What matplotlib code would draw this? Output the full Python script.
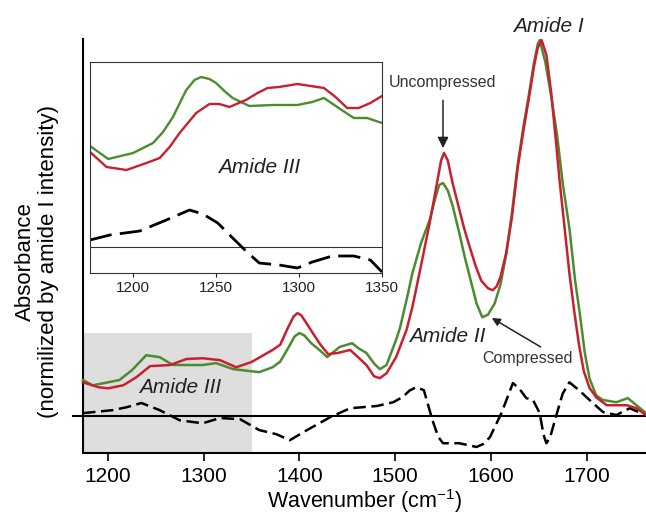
import matplotlib
matplotlib.use("Agg")
import matplotlib.pyplot as plt
from matplotlib.patches import Rectangle

plt.rcParams["font.family"] = ["Liberation Sans", "DejaVu Sans"]
plt.rcParams["mathtext.fontset"] = "custom"
plt.rcParams["mathtext.rm"] = "Liberation Sans"
plt.rcParams["mathtext.it"] = "Liberation Sans:italic"
plt.rcParams["lines.scale_dashes"] = False

RED = "#c8202e"
GREEN = "#4c8c2f"

# main spectrum (absorbance normalised to amide I = 1)
red_wn = [1174, 1190, 1200, 1216, 1230, 1244, 1265, 1282, 1299, 1317, 1334, 1350,
          1372, 1380, 1388, 1394, 1398, 1402, 1408, 1414, 1422, 1430, 1440, 1453,
          1460, 1470, 1478, 1484, 1491, 1501, 1512, 1518, 1527, 1536, 1543, 1548,
          1551, 1555, 1560, 1566, 1572, 1578, 1584, 1590, 1597, 1602, 1606, 1610,
          1616, 1622, 1628, 1634, 1640, 1645, 1649, 1653, 1658, 1663, 1668, 1672,
          1677, 1682, 1687, 1692, 1697, 1703, 1710, 1721, 1742, 1752, 1762]
red_abs = [0.090, 0.077, 0.074, 0.082, 0.104, 0.133, 0.136, 0.152, 0.154, 0.149, 0.130, 0.144,
           0.176, 0.190, 0.235, 0.265, 0.274, 0.268, 0.245, 0.221, 0.190, 0.165, 0.168, 0.176,
           0.160, 0.136, 0.106, 0.101, 0.114, 0.157, 0.230, 0.290, 0.400, 0.513, 0.610, 0.680,
           0.700, 0.680, 0.620, 0.560, 0.500, 0.449, 0.400, 0.360, 0.340, 0.335, 0.345, 0.370,
           0.434, 0.530, 0.660, 0.760, 0.850, 0.930, 0.980, 1.000, 0.960, 0.860, 0.730, 0.620,
           0.500, 0.380, 0.280, 0.190, 0.120, 0.075, 0.050, 0.029, 0.029, 0.021, 0.003]

green_wn = [1174, 1184, 1212, 1225, 1240, 1254, 1268, 1299, 1313, 1331, 1358, 1372,
            1380, 1388, 1395, 1400, 1405, 1412, 1420, 1429, 1442, 1455, 1462, 1470,
            1478, 1484, 1491, 1501, 1505, 1512, 1518, 1527, 1536, 1542, 1546, 1550,
            1555, 1560, 1567, 1573, 1578, 1585, 1591, 1597, 1604, 1610, 1616, 1622,
            1628, 1634, 1640, 1645, 1649, 1651, 1657, 1663, 1669, 1675, 1682, 1688,
            1693, 1698, 1703, 1710, 1717, 1731, 1743, 1752, 1762]
green_abs = [0.096, 0.082, 0.096, 0.122, 0.162, 0.157, 0.136, 0.136, 0.141, 0.125, 0.117, 0.130,
             0.145, 0.180, 0.212, 0.221, 0.215, 0.195, 0.178, 0.157, 0.184, 0.194, 0.180, 0.168,
             0.140, 0.125, 0.136, 0.203, 0.234, 0.310, 0.380, 0.460, 0.521, 0.580, 0.615, 0.620,
             0.600, 0.560, 0.487, 0.420, 0.370, 0.300, 0.263, 0.270, 0.300, 0.350, 0.430, 0.540,
             0.670, 0.770, 0.860, 0.940, 0.990, 1.000, 0.940, 0.850, 0.750, 0.620, 0.500, 0.360,
             0.270, 0.170, 0.100, 0.055, 0.043, 0.037, 0.048, 0.029, 0.008]

diff_wn = [1174, 1205, 1220, 1235, 1254, 1275, 1299, 1317, 1338, 1358, 1376, 1390,
           1408, 1432, 1453, 1481, 1498, 1508, 1515, 1522, 1530, 1539, 1545, 1550,
           1567, 1585, 1592, 1599, 1611, 1623, 1630, 1637, 1644, 1651, 1655, 1658,
           1662, 1669, 1675, 1682, 1692, 1703, 1717, 1731, 1745, 1762]
diff_abs = [0.008, 0.016, 0.024, 0.035, 0.016, -0.011, -0.019, -0.005, -0.008, -0.037, -0.048, -0.064,
            -0.037, -0.003, 0.021, 0.027, 0.037, 0.051, 0.068, 0.077, 0.069, -0.011, -0.055, -0.072,
            -0.072, -0.082, -0.074, -0.056, 0.008, 0.088, 0.072, 0.048, 0.043, 0.008, -0.050, -0.072,
            -0.055, 0.008, 0.060, 0.090, 0.069, 0.043, 0.011, 0.003, 0.021, 0.003]

# inset (amide III region, magnified)
in_red_wn = [1174, 1184, 1196, 1208, 1216, 1222, 1228, 1238, 1246, 1252, 1258, 1268,
             1275, 1281, 1288, 1299, 1307, 1315, 1322, 1329, 1336, 1343, 1350]
in_red = [0.95, 0.80, 0.77, 0.84, 0.89, 1.00, 1.14, 1.34, 1.43, 1.43, 1.40, 1.47,
          1.54, 1.59, 1.60, 1.63, 1.61, 1.59, 1.50, 1.39, 1.39, 1.44, 1.51]
in_green_wn = [1174, 1185, 1200, 1212, 1218, 1224, 1232, 1237, 1241, 1246, 1250, 1255,
               1260, 1270, 1284, 1299, 1308, 1315, 1323, 1333, 1341, 1350]
in_green = [1.01, 0.88, 0.94, 1.04, 1.15, 1.30, 1.57, 1.67, 1.70, 1.68, 1.64, 1.56,
            1.49, 1.41, 1.42, 1.42, 1.45, 1.49, 1.40, 1.29, 1.29, 1.24]
in_diff_wn = [1174, 1186, 1204, 1220, 1234, 1242, 1251, 1260, 1268, 1276, 1288, 1299,
              1308, 1320, 1333, 1343, 1350]
in_diff = [0.07, 0.12, 0.16, 0.27, 0.37, 0.33, 0.24, 0.09, -0.04, -0.16, -0.18, -0.21,
           -0.15, -0.09, -0.09, -0.13, -0.25]

main_ticks = [1200, 1300, 1400, 1500, 1600, 1700]
inset_ticks = [1200, 1250, 1300, 1350]

fig = plt.figure(figsize=(6.46, 5.15), dpi=100)
ax = fig.add_axes([83 / 646, 1 - 453 / 515, 563 / 646, 414 / 515])

ax.add_patch(Rectangle((1174, -0.098), 176, 0.319, facecolor="#dedede",
                       edgecolor="none", zorder=0))
ax.axhline(0, xmin=-0.018, xmax=1, color="black", lw=1.5, clip_on=False, zorder=1)

ax.plot(diff_wn, diff_abs, color="black", lw=1.8, linestyle=(0, (9, 4)), zorder=2)
ax.plot(green_wn, green_abs, color=GREEN, lw=1.8, clip_on=False, zorder=3)
ax.plot(red_wn, red_abs, color=RED, lw=1.8, clip_on=False, zorder=4)

ax.set_xlim(1174, 1762)
ax.set_ylim(-0.098, 1.003)
ax.set_xticks(main_ticks)
ax.set_yticks([])
for s in ["top", "right"]:
    ax.spines[s].set_visible(False)
for s in ["left", "bottom"]:
    ax.spines[s].set_linewidth(1.5)
ax.tick_params(axis="x", direction="out", length=6, width=1.2, labelsize=15, pad=4)
ax.set_xlabel("Wavenumber (cm$^{-1}$)", fontsize=15.5, labelpad=1)

fig.text(37 / 646, 1 - 262 / 515, "Absorbance\n(normilized by amide I intensity)",
         rotation=90, ha="center", va="center", multialignment="center",
         fontsize=16, linespacing=1.15)

ital = dict(fontsize=15, style="italic", color="#222222", ha="center", va="baseline")
ax.text(1660, 1.021, "Amide I", clip_on=False, **ital)
ax.text(1554, 0.197, "Amide II", **ital)
ax.text(1275, 0.061, "Amide III", **ital)

narrow = dict(fontsize=11.5, color="#333333", ha="center", va="baseline")
ax.text(1549, 0.875, "Uncompressed", **narrow)
ax.text(1638, 0.141, "Compressed", **narrow)
ax.annotate("", xy=(1550, 0.713), xytext=(1550, 0.840),
            arrowprops=dict(arrowstyle="-|>", color="#222222", lw=1.1,
                            mutation_scale=16, shrinkA=0, shrinkB=0))
ax.annotate("", xy=(1601, 0.261), xytext=(1652, 0.184),
            arrowprops=dict(arrowstyle="-|>", color="#222222", lw=1.1,
                            mutation_scale=12, shrinkA=0, shrinkB=0))

# inset
ins = fig.add_axes([90 / 646, 1 - 273 / 515, 292 / 646, 211 / 515])
ins.axhline(0, color="#333333", lw=0.8)
ins.plot(in_diff_wn, in_diff, color="black", lw=2, linestyle=(0, (16, 6)))
ins.plot(in_green_wn, in_green, color=GREEN, lw=1.7)
ins.plot(in_red_wn, in_red, color=RED, lw=1.7)
ins.set_xlim(1174, 1350)
ins.set_ylim(-0.26, 1.85)
ins.set_xticks(inset_ticks)
ins.set_yticks([])
for s in ins.spines.values():
    s.set_linewidth(0.8)
    s.set_color("#333333")
ins.tick_params(axis="x", direction="out", length=3, width=0.8, labelsize=11,
                pad=3, colors="#222222")
ins.text(1276, 0.74, "Amide III", **ital)

fig.savefig("out.png", dpi=100)
